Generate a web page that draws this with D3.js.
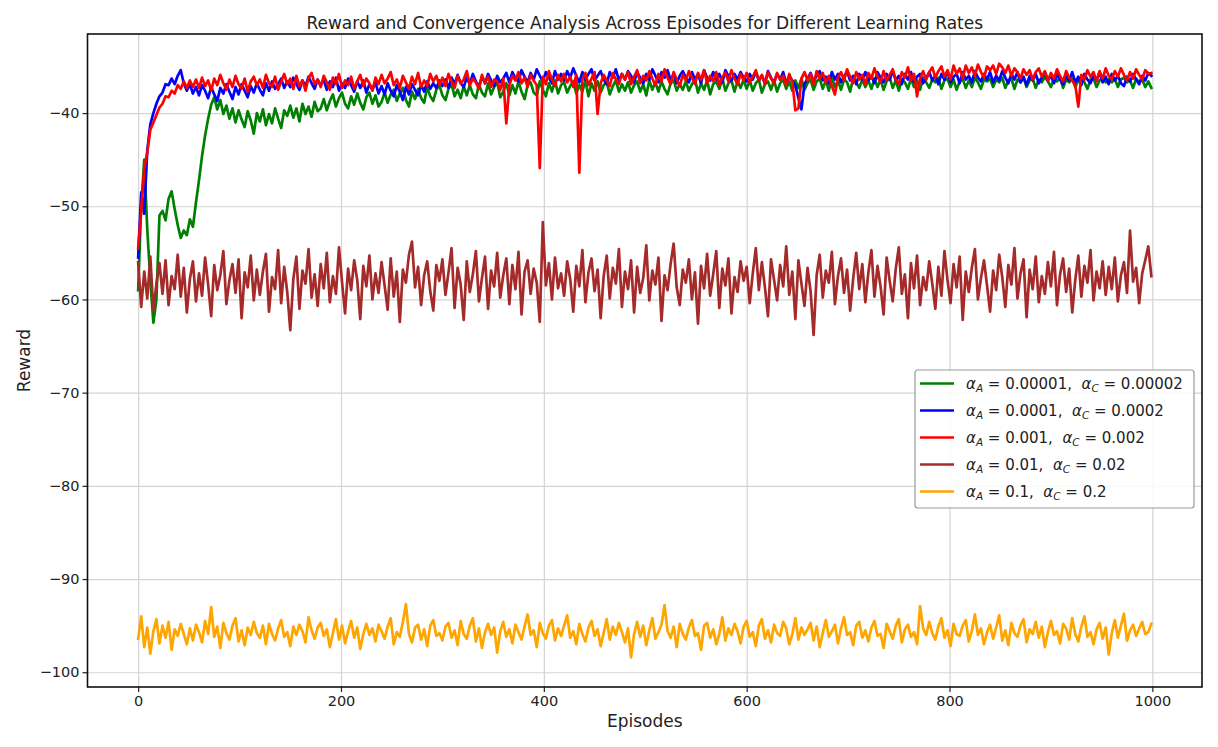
<!DOCTYPE html>
<html>
<head>
<meta charset="utf-8">
<script src="https://cdn.jsdelivr.net/npm/d3@7"></script>
<style>
  html, body { margin: 0; padding: 0; background: #fff; }
  #chart { width: 1218px; height: 747px; }
  text { font-family: "DejaVu Sans", "Liberation Sans", sans-serif; fill: #222; }
</style>
</head>
<body>
<div id="chart"></div>
<script>
// rewards read every 3 episodes (0, 3, ..., 999)
const episodes = d3.range(0, 1000, 3);

const xTicks = [0, 200, 400, 600, 800, 1000];
const yTicks = [-100, -90, -80, -70, -60, -50, -40];

const actorRates = ['0.00001', '0.0001', '0.001', '0.01', '0.1'];
const criticRates = ['0.00002', '0.0002', '0.002', '0.02', '0.2'];
const seriesColors = ['#008000', '#0000ff', '#ff0000', '#a52a2a', '#ffa500'];

// alpha_A = 0.00001, alpha_C = 0.00002
const rewardsSlowest = [
  -59.0, -50.0, -45.0, -52.5, -58.0, -62.5, -60.0, -51.0, -50.5, -51.5, -49.2, -48.4, -50.3, -52.0, -53.4, -52.6, -53.1, -51.4, -52.2, -49.6,
  -47.2, -44.6, -42.4, -40.6, -39.1, -38.3, -39.6, -38.6, -40.1, -39.2, -40.6, -39.5, -41.0, -39.7, -40.7, -41.5, -39.8, -40.8, -42.2, -40.0,
  -40.9, -39.6, -41.3, -40.1, -41.1, -39.5, -40.6, -41.6, -39.7, -40.3, -39.2, -40.5, -39.5, -40.9, -39.0, -40.1, -39.3, -40.4, -38.8, -39.8,
  -39.5, -38.5, -39.7, -38.7, -38.0, -39.3, -38.4, -37.8, -39.0, -39.5, -38.2, -39.1, -37.9, -38.9, -39.6, -38.3, -37.8, -39.0, -38.1, -39.3,
  -38.8, -37.8, -38.9, -38.0, -37.5, -38.7, -37.9, -37.3, -38.6, -39.3, -37.7, -38.5, -37.4, -38.4, -38.9, -37.2, -38.2, -38.7, -37.5, -37.0,
  -38.1, -38.6, -37.4, -36.9, -38.2, -37.5, -38.4, -37.1, -38.1, -37.0, -38.0, -38.4, -36.9, -37.8, -38.2, -36.8, -38.0, -37.2, -36.7, -38.3,
  -37.7, -36.8, -38.1, -37.0, -37.9, -36.6, -37.7, -38.5, -37.0, -36.7, -37.8, -38.1, -36.6, -37.5, -38.2, -36.8, -37.7, -36.5, -37.9, -37.0,
  -36.7, -37.8, -37.1, -36.6, -37.9, -37.0, -37.7, -36.5, -38.2, -36.8, -37.6, -36.6, -37.8, -37.0, -36.7, -38.0, -37.1, -36.5, -37.7, -36.9,
  -37.6, -36.7, -37.8, -37.0, -36.6, -37.7, -36.9, -38.1, -36.5, -37.5, -36.7, -37.7, -36.6, -37.4, -38.0, -36.8, -36.5, -37.6, -36.9, -37.5,
  -36.6, -37.6, -36.9, -36.4, -37.8, -36.8, -37.5, -36.5, -38.0, -36.9, -36.6, -37.4, -36.3, -37.6, -36.8, -36.5, -37.7, -36.6, -37.3, -36.4,
  -37.4, -36.5, -37.6, -36.8, -36.4, -37.8, -36.9, -36.6, -37.5, -36.5, -37.7, -36.8, -36.4, -37.4, -36.6, -37.6, -36.5, -37.3, -36.3, -37.5,
  -36.8, -36.4, -37.5, -36.6, -36.3, -37.4, -36.5, -37.6, -36.2, -37.2, -36.5, -37.5, -36.4, -36.7, -37.7, -36.3, -36.7, -37.3, -36.4, -37.2,
  -36.5, -37.4, -36.3, -37.2, -36.4, -37.5, -36.6, -36.2, -37.3, -36.5, -37.6, -36.4, -36.7, -37.4, -36.3, -37.2, -36.5, -37.5, -36.2, -36.7,
  -37.3, -36.4, -36.7, -36.2, -37.4, -36.5, -36.3, -37.2, -36.4, -37.5, -36.6, -36.3, -37.3, -36.5, -37.2, -36.2, -36.7, -37.4, -36.4, -36.6,
  -36.3, -37.2, -36.4, -36.7, -36.2, -37.3, -36.5, -36.3, -37.4, -36.4, -36.7, -36.2, -37.2, -36.5, -36.3, -37.3, -36.4, -36.7, -36.1, -36.6,
  -37.2, -36.3, -36.6, -36.2, -37.3, -36.4, -36.7, -36.3, -37.2, -36.5, -36.2, -36.7, -37.4, -36.4, -36.3, -37.2, -36.5, -36.2, -36.7, -36.4,
  -36.7, -36.3, -37.2, -36.4, -36.2, -36.7, -36.5, -37.3, -36.3, -36.7, -36.4, -37.2, -36.6, -37.3
];

// alpha_A = 0.0001, alpha_C = 0.0002
const rewardsSlow = [
  -55.5, -48.5, -50.8, -44.0, -41.2, -40.0, -39.0, -38.2, -37.8, -36.9, -37.0, -36.3, -36.9, -36.0, -35.4, -36.8, -37.6, -36.9, -37.9, -37.2,
  -38.1, -37.0, -37.6, -38.4, -37.2, -38.0, -38.7, -37.3, -37.9, -36.9, -37.7, -38.5, -37.2, -38.0, -36.9, -37.6, -38.3, -37.1, -37.8, -36.8,
  -37.5, -38.1, -36.8, -37.6, -36.6, -37.4, -36.9, -36.3, -37.3, -36.6, -37.2, -36.2, -36.9, -37.5, -36.5, -37.1, -36.1, -36.8, -37.4, -36.4,
  -37.0, -36.4, -37.5, -36.6, -37.2, -36.2, -37.6, -36.8, -37.3, -36.3, -37.0, -37.7, -36.6, -37.3, -36.5, -37.8, -36.9, -37.5, -36.7, -37.9,
  -37.1, -38.0, -36.8, -37.6, -38.2, -37.0, -37.7, -38.6, -37.2, -38.0, -36.9, -37.5, -38.1, -37.0, -37.7, -36.6, -37.4, -36.8, -37.3, -36.5,
  -37.1, -36.4, -37.3, -36.2, -36.9, -35.9, -36.8, -37.2, -36.2, -36.9, -35.8, -36.6, -37.2, -36.1, -36.8, -35.8, -36.5, -37.1, -36.0, -36.7,
  -36.3, -35.7, -36.7, -35.6, -36.3, -36.6, -35.4, -36.1, -36.7, -35.7, -36.4, -35.3, -36.0, -36.6, -35.6, -36.2, -36.8, -35.5, -36.4, -35.8,
  -36.5, -35.5, -36.2, -35.2, -36.0, -36.7, -35.6, -36.4, -35.8, -35.3, -36.5, -36.0, -35.5, -36.4, -36.9, -35.6, -36.2, -35.3, -36.5, -35.8,
  -36.4, -35.5, -36.0, -36.7, -35.6, -36.2, -36.8, -35.8, -36.4, -35.3, -36.0, -36.7, -35.6, -36.2, -35.4, -36.5, -35.8, -36.8, -36.0, -35.5,
  -36.2, -36.7, -35.6, -36.4, -35.8, -36.8, -35.4, -36.2, -36.5, -35.6, -36.4, -35.8, -36.7, -35.4, -36.0, -36.5, -35.8, -36.4, -35.6, -36.2,
  -36.6, -35.8, -36.4, -35.6, -36.5, -36.0, -36.8, -35.5, -36.2, -36.7, -35.8, -36.4, -35.6, -36.8, -36.1, -36.5, -37.0, -38.4, -39.6, -36.9,
  -36.3, -35.7, -36.6, -36.0, -35.5, -36.5, -36.1, -36.8, -35.6, -36.4, -35.8, -36.7, -36.1, -35.5, -36.5, -36.0, -36.9, -35.8, -36.4, -35.6,
  -36.5, -36.0, -36.8, -35.6, -36.2, -36.7, -35.8, -36.4, -35.5, -36.5, -36.0, -36.9, -35.8, -36.4, -35.6, -36.7, -36.1, -35.8, -36.8, -36.3,
  -35.6, -36.5, -36.0, -36.9, -35.8, -36.4, -35.5, -36.7, -36.1, -35.8, -36.8, -35.6, -36.4, -36.0, -36.7, -35.5, -36.2, -36.6, -35.8, -36.4,
  -35.6, -36.7, -36.0, -36.5, -35.5, -36.2, -36.8, -35.8, -36.4, -35.6, -36.7, -36.1, -37.0, -36.0, -36.5, -35.8, -36.8, -36.2, -35.6, -36.5,
  -36.0, -36.8, -35.8, -36.4, -36.9, -36.0, -36.5, -35.6, -36.7, -36.1, -37.0, -35.8, -36.4, -36.8, -36.0, -36.5, -35.6, -36.7, -36.1, -36.9,
  -35.8, -36.5, -36.0, -36.8, -37.1, -36.1, -36.6, -35.8, -36.4, -36.9, -36.0, -36.5, -35.7, -36.0
];

// alpha_A = 0.001, alpha_C = 0.002
const rewardsMedium = [
  -54.5, -50.5, -46.0, -44.2, -41.8, -41.0, -40.2, -39.4, -39.0, -38.2, -38.3, -37.6, -37.9, -37.0, -37.4, -36.6, -37.3, -36.5, -37.2, -36.4,
  -37.3, -36.2, -37.1, -36.5, -37.6, -36.3, -37.0, -35.9, -36.8, -37.5, -36.4, -37.2, -36.0, -36.9, -37.4, -36.3, -37.7, -36.6, -36.1, -37.0,
  -36.4, -37.3, -35.9, -36.8, -37.2, -36.1, -37.5, -36.6, -35.8, -36.9, -36.3, -37.4, -36.0, -37.1, -36.5, -37.6, -36.2, -35.7, -36.9, -36.4,
  -37.2, -36.0, -36.7, -37.5, -36.2, -36.9, -35.8, -37.3, -36.5, -37.0, -36.1, -37.4, -36.6, -35.9, -37.1, -36.3, -36.8, -37.6, -36.2, -36.9,
  -35.9, -36.8, -36.3, -35.6, -37.0, -36.4, -37.3, -36.0, -36.7, -37.4, -36.1, -36.9, -35.7, -37.2, -36.5, -37.1, -35.8, -36.6, -36.0, -37.0,
  -36.2, -37.1, -35.8, -36.6, -37.3, -36.0, -36.8, -36.4, -35.5, -37.0, -36.3, -36.7, -37.4, -35.9, -36.8, -36.1, -37.2, -36.4, -36.6, -37.5,
  -36.3, -41.1, -37.0, -36.0, -36.5, -35.6, -36.8, -36.2, -37.2, -35.9, -36.5, -37.0, -45.9, -36.1, -36.9, -35.5, -36.4, -37.1, -35.9, -36.6,
  -35.8, -36.7, -36.1, -37.2, -35.9, -46.4, -36.4, -35.7, -37.0, -36.3, -35.6, -40.1, -36.8, -35.9, -36.5, -37.1, -35.7, -36.4, -36.9, -35.8,
  -36.4, -35.6, -36.9, -36.1, -35.4, -36.8, -36.0, -36.5, -35.5, -36.3, -37.0, -35.8, -36.6, -35.3, -36.2, -36.9, -35.6, -36.4, -37.1, -35.9,
  -36.5, -35.5, -36.2, -36.9, -35.7, -36.4, -35.4, -36.8, -36.0, -36.6, -35.6, -37.0, -36.1, -35.7, -36.6, -35.4, -36.3, -36.9, -35.8, -36.5,
  -35.7, -36.7, -36.1, -35.4, -36.5, -35.9, -36.9, -35.6, -36.3, -36.8, -35.7, -36.4, -36.0, -37.0, -35.8, -36.6, -39.7, -39.5, -36.3, -35.6,
  -36.5, -35.8, -36.9, -35.5, -36.3, -35.7, -36.7, -36.0, -37.1, -38.0, -36.2, -35.6, -36.5, -35.3, -36.1, -36.8, -35.6, -36.4, -35.9, -36.9,
  -35.7, -36.3, -35.2, -36.1, -36.7, -35.5, -36.5, -35.9, -35.3, -36.4, -36.9, -35.6, -36.2, -35.1, -36.5, -35.8, -38.2, -36.3, -35.5, -36.4,
  -35.6, -35.1, -36.2, -35.5, -35.0, -36.1, -35.4, -36.4, -34.9, -35.8, -35.2, -36.3, -34.9, -35.7, -35.1, -36.0, -34.8, -35.6, -36.2, -35.0,
  -35.4, -34.9, -35.8, -34.7, -35.1, -35.7, -34.9, -36.0, -35.2, -35.6, -36.3, -35.3, -35.9, -35.4, -36.4, -35.6, -35.2, -36.1, -35.5, -36.5,
  -35.7, -36.3, -35.3, -36.0, -36.6, -35.5, -36.2, -36.5, -37.0, -39.3, -35.9, -36.4, -35.4, -36.1, -35.6, -36.6, -35.5, -36.3, -35.2, -36.0,
  -36.4, -35.5, -36.1, -35.2, -35.9, -36.5, -35.6, -36.3, -35.3, -35.9, -36.4, -35.4, -35.8, -35.7
];

// alpha_A = 0.01, alpha_C = 0.02
const rewardsFast = [
  -56.0, -60.8, -57.0, -59.9, -55.4, -61.2, -58.3, -56.1, -59.4, -55.8, -60.6, -57.5, -58.9, -55.2, -59.7, -56.6, -61.4, -57.8, -55.9, -60.2,
  -57.2, -59.6, -55.5, -58.4, -61.8, -56.3, -59.0, -57.4, -54.8, -60.5, -57.9, -56.2, -59.3, -55.7, -62.0, -57.1, -58.7, -55.3, -60.1, -56.8,
  -59.5, -57.0, -55.1, -61.3, -57.6, -58.9, -54.7, -60.4, -56.5, -59.2, -63.3, -57.8, -55.4, -61.0, -56.9, -58.3, -54.6, -59.8, -57.3, -60.7,
  -56.2, -58.8, -55.0, -60.3, -57.5, -59.4, -54.4, -58.1, -61.5, -56.7, -59.0, -55.8, -57.9, -62.1, -56.4, -58.6, -55.3, -60.0, -57.2, -59.3,
  -56.0, -58.5, -61.1, -55.6, -59.7, -57.0, -62.4, -56.8, -58.2, -55.2, -53.8, -58.7, -56.5, -60.6, -57.4, -55.9, -59.1, -61.2, -56.3, -58.0,
  -55.7, -59.5, -57.1, -54.5, -60.9, -56.6, -58.4, -62.2, -55.9, -59.2, -57.3, -54.8, -60.2, -57.7, -55.4, -61.0, -56.9, -58.6, -55.0, -59.8,
  -57.4, -55.6, -60.5, -56.3, -58.9, -54.9, -61.6, -57.0, -55.8, -59.4, -56.7, -58.2, -62.4, -51.7, -58.5, -56.1, -60.0, -55.5, -58.8, -57.2,
  -59.6, -55.9, -57.8, -61.3, -56.4, -58.6, -54.7, -60.3, -57.1, -55.6, -59.1, -56.8, -62.0, -57.5, -55.3, -59.9, -56.6, -58.3, -54.6, -60.8,
  -57.0, -58.9, -55.8, -61.4, -56.5, -59.3, -57.7, -54.2, -60.1, -56.9, -58.4, -55.5, -62.3, -57.4, -59.0, -56.2, -54.0, -58.7, -60.6, -56.8,
  -58.2, -55.7, -60.0, -57.1, -62.6, -56.4, -58.8, -55.1, -59.6, -57.3, -54.8, -60.9, -56.7, -58.5, -55.6, -61.5, -57.6, -59.2, -55.9, -58.0,
  -56.5, -60.4, -57.2, -54.5, -59.0, -56.0, -58.7, -61.8, -55.7, -57.9, -60.1, -56.3, -58.6, -54.3, -59.5, -57.0, -62.1, -55.8, -58.3, -60.7,
  -56.6, -59.1, -63.8, -57.4, -55.2, -59.8, -56.9, -58.2, -54.9, -60.5, -57.5, -55.6, -59.3, -56.8, -61.2, -57.8, -55.0, -58.9, -56.2, -60.3,
  -57.1, -54.7, -59.7, -56.4, -58.6, -61.6, -55.5, -58.0, -60.2, -56.7, -54.4, -59.4, -57.3, -62.0, -56.1, -58.8, -55.3, -60.6, -57.6, -59.0,
  -55.9, -58.3, -61.0, -56.5, -59.6, -54.8, -57.9, -60.4, -56.2, -58.7, -55.4, -62.2, -57.0, -59.2, -56.6, -54.6, -60.0, -57.7, -55.8, -58.5,
  -61.3, -56.9, -59.0, -55.2, -57.6, -60.8, -56.3, -58.4, -54.5, -59.9, -57.2, -55.7, -61.9, -56.8, -58.9, -55.4, -60.3, -57.5, -59.4, -56.0,
  -58.6, -54.9, -60.6, -57.3, -55.6, -59.2, -56.7, -61.4, -57.9, -55.3, -59.7, -56.4, -58.2, -54.7, -60.1, -57.0, -58.8, -55.9, -59.5, -56.5,
  -58.9, -55.5, -60.2, -57.4, -56.0, -59.3, -52.6, -58.1, -56.6, -60.4, -57.2, -55.8, -54.3, -57.5
];

// alpha_A = 0.1, alpha_C = 0.2
const rewardsFastest = [
  -96.4, -94.0, -97.3, -95.2, -98.0, -95.6, -94.3, -96.9, -95.0, -96.3, -94.6, -97.6, -95.4, -96.1, -94.8, -95.9, -97.0, -95.3, -96.6, -94.9,
  -95.7, -96.8, -94.5, -95.9, -93.0, -96.2, -95.1, -97.4, -94.7, -95.8, -96.5, -95.0, -94.2, -96.7, -95.5, -97.1, -95.2, -96.0, -94.6, -95.8,
  -96.3, -95.0, -97.0, -94.8, -95.9, -96.6, -95.3, -94.4, -96.2, -95.7, -97.2, -95.1, -96.0, -94.9, -95.6, -96.8, -94.1, -95.5, -96.4, -95.2,
  -94.7, -96.1, -95.4, -97.3, -95.8, -94.3, -96.5, -95.0, -96.9, -95.6, -94.5, -96.3, -95.2, -97.5, -95.9, -94.8, -96.0, -95.3, -96.7, -94.9,
  -95.6, -96.4, -95.1, -94.2, -97.0, -95.7, -96.2, -94.6, -92.7, -95.9, -96.8, -95.2, -94.9, -96.5, -95.4, -97.2, -95.0, -94.4, -96.1, -95.8,
  -96.6, -95.1, -94.7, -96.3, -95.5, -97.1, -94.5, -95.9, -96.4, -95.0, -94.2, -96.7, -95.3, -97.4, -95.7, -94.8, -96.0, -95.2, -97.9, -95.6,
  -94.6, -96.2, -95.4, -96.9, -94.9, -95.7, -96.5, -95.1, -93.8, -96.0, -95.5, -97.3, -94.7, -95.8, -96.4, -95.0, -94.4, -96.6, -95.3, -96.1,
  -95.0, -93.9, -96.3, -95.6, -97.0, -94.8, -95.9, -96.7, -95.2, -94.5, -96.1, -95.4, -97.2, -95.8, -94.3, -96.5, -95.1, -96.0, -94.7, -95.7,
  -96.8, -95.3, -98.4, -95.9, -94.6, -96.2, -95.0, -97.1, -95.5, -94.2, -96.4, -95.7, -94.9, -92.8, -95.6, -96.3, -95.1, -97.3, -94.8, -95.9,
  -96.5, -95.2, -94.4, -96.1, -95.8, -97.6, -95.0, -94.7, -96.3, -95.4, -97.0, -95.9, -94.1, -96.6, -95.3, -96.0, -94.8, -95.6, -96.9, -95.1,
  -94.5, -96.2, -95.7, -97.2, -95.0, -94.3, -96.4, -95.5, -96.8, -94.9, -95.8, -96.1, -94.6, -95.3, -97.0, -95.9, -94.2, -96.5, -95.2, -96.0,
  -95.4, -94.7, -96.6, -95.1, -97.3, -95.8, -94.4, -96.2, -95.6, -94.9, -96.9, -95.3, -94.1, -96.0, -95.7, -97.1, -95.0, -94.6, -96.3, -95.5,
  -96.7, -95.2, -94.5, -96.1, -95.9, -97.4, -94.8, -95.6, -96.4, -95.0, -94.3, -96.8, -95.4, -94.9, -96.2, -95.7, -97.0, -92.9, -95.3, -96.0,
  -94.6, -95.8, -96.5, -95.1, -94.2, -96.3, -95.5, -97.2, -94.8, -95.9, -96.1, -95.0, -94.4, -96.7, -95.6, -93.8, -96.0, -95.3, -97.0, -95.7,
  -94.9, -96.4, -95.2, -93.9, -96.6, -95.5, -97.1, -94.7, -95.8, -96.2, -95.0, -94.3, -96.8, -95.4, -95.9, -94.6, -96.3, -95.1, -97.3, -95.7,
  -94.5, -96.0, -95.6, -96.9, -94.8, -95.3, -96.5, -94.2, -95.9, -96.7, -95.1, -94.0, -96.2, -95.7, -97.0, -95.4, -94.7, -96.4, -95.2, -98.1,
  -95.8, -94.4, -96.3, -95.0, -93.7, -96.6, -95.5, -94.9, -96.1, -95.3, -94.6, -95.9, -95.7, -94.8
];

const rewardSeries = [rewardsSlowest, rewardsSlow, rewardsMedium, rewardsFast, rewardsFastest];

/**
 * Reward curves for the five learning-rate settings
 */
class RewardCurvesChart {
  defaultOption() {
    return {
      width: 1218,
      height: 747,
      plot: { left: 87.5, top: 34, right: 1202, bottom: 687 },
      lineWidth: 2.7,
      tickFont: 14.5,
      labelFont: 17,
      legendFont: 15
    };
  }

  constructor(selector) {
    this.config = this.defaultOption();
    const { width, height } = this.config;
    this.svg = d3.select(selector).append('svg')
      .attr('width', width)
      .attr('height', height);
  }

  draw() {
    const { plot } = this.config;
    // matplotlib style 5% margins around the data
    const xPad = (episodes[episodes.length - 1] - episodes[0]) * 0.05;
    const [yMin, yMax] = d3.extent(rewardSeries.flat());
    const yPad = (yMax - yMin) * 0.05;

    this.x = d3.scaleLinear()
      .domain([episodes[0] - xPad, episodes[episodes.length - 1] + xPad])
      .range([plot.left, plot.right]);
    this.y = d3.scaleLinear()
      .domain([yMin - yPad, yMax + yPad])
      .range([plot.bottom, plot.top]);

    this.drawGrid();
    this.drawLines();
    this.drawFrameAndAxes();
    this.drawTexts();
    this.drawLegend();
  }

  drawGrid() {
    const { plot } = this.config;
    const grid = this.svg.append('g').attr('class', 'grid');
    grid.append('g')
      .attr('transform', 'translate(0,' + plot.bottom + ')')
      .call(d3.axisBottom(this.x).tickValues(xTicks).tickSize(-(plot.bottom - plot.top)).tickFormat(''));
    grid.append('g')
      .attr('transform', 'translate(' + plot.left + ',0)')
      .call(d3.axisLeft(this.y).tickValues(yTicks).tickSize(-(plot.right - plot.left)).tickFormat(''));
    grid.selectAll('.domain').remove();
    grid.selectAll('line').attr('stroke', '#d4d4d4').attr('stroke-width', 1.2);
  }

  drawLines() {
    const { plot, lineWidth } = this.config;
    const x = this.x, y = this.y;
    this.svg.append('clipPath').attr('id', 'plotClip')
      .append('rect')
      .attr('x', plot.left).attr('y', plot.top)
      .attr('width', plot.right - plot.left).attr('height', plot.bottom - plot.top);

    const line = d3.line()
      .x((d, i) => x(episodes[i]))
      .y(d => y(d));

    this.svg.append('g').attr('clip-path', 'url(#plotClip)')
      .selectAll('path.series')
      .data(rewardSeries)
      .enter().append('path')
      .attr('class', 'series')
      .attr('fill', 'none')
      .attr('stroke', (d, i) => seriesColors[i])
      .attr('stroke-width', lineWidth)
      .attr('stroke-linejoin', 'round')
      .attr('stroke-linecap', 'square')
      .attr('d', line);
  }

  drawFrameAndAxes() {
    const { plot, tickFont } = this.config;
    const xAxis = this.svg.append('g')
      .attr('transform', 'translate(0,' + plot.bottom + ')')
      .call(d3.axisBottom(this.x).tickValues(xTicks).tickFormat(d3.format('d')).tickSize(5).tickPadding(4));
    const yAxis = this.svg.append('g')
      .attr('transform', 'translate(' + plot.left + ',0)')
      .call(d3.axisLeft(this.y).tickValues(yTicks).tickFormat(d3.format('d')).tickSize(5).tickPadding(3));

    [xAxis, yAxis].forEach(axis => {
      axis.select('.domain').remove();
      axis.selectAll('line').attr('stroke', '#222').attr('stroke-width', 1.2);
      axis.selectAll('text')
        .attr('fill', '#222')
        .style('font-size', tickFont + 'px')
        .style('font-family', '"DejaVu Sans", sans-serif');
    });

    this.svg.append('rect')
      .attr('x', plot.left).attr('y', plot.top)
      .attr('width', plot.right - plot.left).attr('height', plot.bottom - plot.top)
      .attr('fill', 'none')
      .attr('stroke', '#111')
      .attr('stroke-width', 1.6);
  }

  drawTexts() {
    const { plot, labelFont } = this.config;
    const cx = (plot.left + plot.right) / 2;
    const cy = (plot.top + plot.bottom) / 2;

    this.svg.append('text')
      .attr('x', cx).attr('y', 29)
      .attr('text-anchor', 'middle')
      .style('font-size', labelFont + 'px')
      .text('Reward and Convergence Analysis Across Episodes for Different Learning Rates');

    this.svg.append('text')
      .attr('x', cx).attr('y', 727)
      .attr('text-anchor', 'middle')
      .style('font-size', labelFont + 'px')
      .text('Episodes');

    this.svg.append('text')
      .attr('transform', 'translate(30,' + cy + ') rotate(-90)')
      .attr('text-anchor', 'middle')
      .style('font-size', labelFont + 'px')
      .text('Reward');
  }

  drawLegend() {
    const { legendFont } = this.config;
    const box = { x: 915, y: 370, width: 279, height: 138 };
    const rowStart = 383.5, rowGap = 27;

    const legend = this.svg.append('g').attr('class', 'legend');
    legend.append('rect')
      .attr('x', box.x).attr('y', box.y)
      .attr('width', box.width).attr('height', box.height)
      .attr('rx', 3)
      .attr('fill', '#fff').attr('fill-opacity', 0.85)
      .attr('stroke', '#999').attr('stroke-width', 1.2);

    const rows = legend.selectAll('g.row')
      .data(actorRates)
      .enter().append('g')
      .attr('class', 'row')
      .attr('transform', (d, i) => 'translate(0,' + (rowStart + i * rowGap) + ')');

    rows.append('line')
      .attr('x1', 920).attr('x2', 954)
      .attr('stroke', (d, i) => seriesColors[i])
      .attr('stroke-width', 2.5);

    const sub = legendFont * 0.7;
    rows.append('text')
      .attr('x', 966).attr('y', 5.3)
      .style('font-size', legendFont + 'px')
      .style('white-space', 'pre')
      .each(function (d, i) {
        const t = d3.select(this);
        t.append('tspan').attr('font-style', 'italic').text('α');
        t.append('tspan').attr('font-style', 'italic').style('font-size', sub + 'px').attr('dy', 3).text('A');
        t.append('tspan').attr('dy', -3).text(' = ' + actorRates[i] + ',  ');
        t.append('tspan').attr('font-style', 'italic').text('α');
        t.append('tspan').attr('font-style', 'italic').style('font-size', sub + 'px').attr('dy', 3).text('C');
        t.append('tspan').attr('dy', -3).text(' = ' + criticRates[i]);
      });
  }
}

const chart = new RewardCurvesChart('#chart');
chart.draw();
</script>
</body>
</html>
